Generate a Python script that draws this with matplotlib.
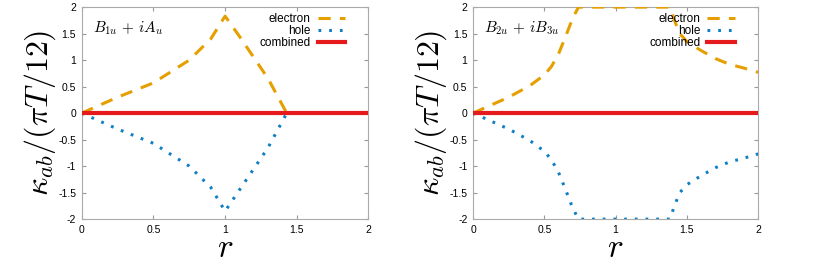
import matplotlib.pyplot as plt
import numpy as np

plt.rcParams['mathtext.fontset'] = 'cm'
plt.rcParams['font.family'] = ['Liberation Sans', 'DejaVu Sans']

# left panel: B1u + iAu
r_left = [0.0, 0.1, 0.25, 0.5, 0.75, 0.9, 1.0, 1.1, 1.2, 1.3, 1.4, 1.43, 1.6, 2.0]
el_left = [0.0, 0.12, 0.3, 0.57, 1.0, 1.4, 1.83, 1.45, 1.05, 0.65, 0.15, 0.0, 0.0, 0.0]
ho_left = [0.0, -0.12, -0.3, -0.57, -1.0, -1.4, -1.85, -1.45, -1.05, -0.65, -0.15, 0.0, 0.0, 0.0]

# right panel: B2u + iB3u
r_right = [0.0, 0.1, 0.25, 0.4, 0.5, 0.55, 0.6, 0.65, 0.7, 0.74, 1.0, 1.38, 1.42, 1.45,
           1.5, 1.6, 1.7, 1.8, 1.9, 2.0]
el_right = [0.0, 0.12, 0.3, 0.52, 0.72, 0.88, 1.12, 1.45, 1.8, 2.0, 2.0, 2.0, 1.7, 1.5,
            1.35, 1.18, 1.03, 0.92, 0.85, 0.77]
ho_right = [0.0, -0.12, -0.3, -0.52, -0.72, -0.88, -1.12, -1.45, -1.8, -2.0, -2.0, -2.0, -1.7, -1.5,
            -1.35, -1.18, -1.03, -0.92, -0.85, -0.77]

titles = [r'$B_{1u}\,+\,iA_u$', r'$B_{2u}\,+\,iB_{3u}$']
xticks = [0, 0.5, 1, 1.5, 2]
xticklabels = ['0', '0.5', '1', '1.5', '2']
yticks = [-2, -1.5, -1, -0.5, 0, 0.5, 1, 1.5, 2]
yticklabels = ['-2', '-1.5', '-1', '-0.5', '0', '0.5', '1', '1.5', '2']

c_el = '#e69f00'
c_ho = '#0f7fc4'
c_co = '#e41a1c'

fig = plt.figure(figsize=(8.17, 2.64), dpi=100)
ax1 = fig.add_axes([0.100, 0.170, 0.351, 0.803])
ax2 = fig.add_axes([0.579, 0.170, 0.349, 0.803])

panels = [(ax1, r_left, el_left, ho_left), (ax2, r_right, el_right, ho_right)]
for i, (ax, r, el, ho) in enumerate(panels):
    ax.plot(r, el, color=c_el, lw=2.2, dashes=(4, 3), label='electron', zorder=3)
    ax.plot(r, ho, color=c_ho, lw=2.2, dashes=(0.9, 2.6), dash_capstyle='butt', label='hole', zorder=3)
    ax.plot([0, 2], [0, 0], color=c_co, lw=3, label='combined', zorder=4)
    ax.set_xlim(0, 2)
    ax.set_ylim(-2, 2)
    ax.set_xticks(xticks)
    ax.set_xticklabels(xticklabels)
    ax.set_yticks(yticks)
    ax.set_yticklabels(yticklabels)
    ax.tick_params(direction='in', top=True, right=True, labelsize=7.5, color='#999999',
                   length=3, pad=4)
    for s in ax.spines.values():
        s.set_color('#aaaaaa')
        s.set_linewidth(0.8)
    ax.set_xlabel(r'$r$', fontsize=24, labelpad=-1)
    ax.set_ylabel(r'$\kappa_{ab}/(\pi T/12)$', fontsize=23, labelpad=0)
    ax.text(0.04, 0.94, titles[i], transform=ax.transAxes, fontsize=11, va='top', ha='left')
    ax.legend(loc='upper right', frameon=False, markerfirst=False, fontsize=8.5,
              handlelength=2.3, handletextpad=0.6, labelspacing=0.02,
              borderaxespad=1.9, borderpad=0.1, bbox_to_anchor=(1.0, 1.085))

plt.savefig('out.png', dpi=100)
